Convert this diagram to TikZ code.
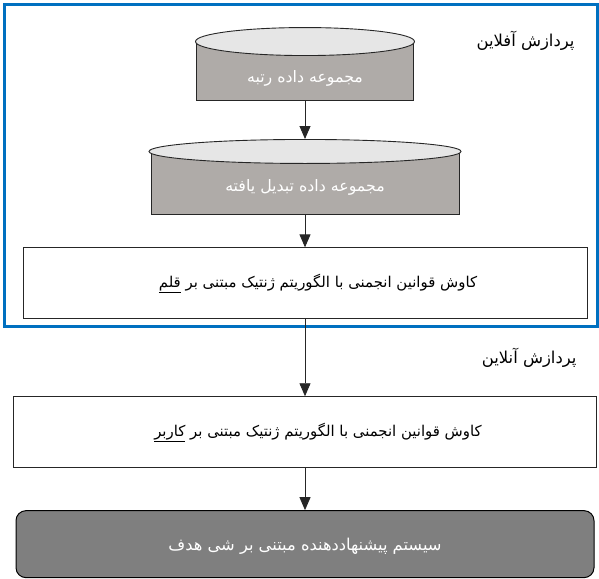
\documentclass[tikz,border=0pt]{standalone}
\usepackage{fontspec}
\usepackage{xcolor}
\usetikzlibrary{positioning, shapes.geometric, arrows.meta}
\TeXXeTstate=1
\newfontfamily\persianfont[Script=Arabic]{DejaVu Sans}
\newcommand{\fa}[1]{{\persianfont\beginR #1\endR}}
\newcommand{\lowered}[2]{\raisebox{-#1}[\height][\depth]{#2}}
\definecolor{dbgray}{RGB}{175,171,168}
\definecolor{dbtopgray}{RGB}{230,230,230}
\definecolor{recgray}{RGB}{127,127,127}
\definecolor{frameblue}{RGB}{0,112,192}
\tikzset{
  dbbody/.style={draw=black!85, line width=0.9pt, fill=dbgray, text=white, inner sep=0pt, font=\fontsize{15.8}{18}\selectfont},
  dbtop/.style={ellipse, draw=black!85, line width=0.9pt, fill=dbtopgray, inner sep=0pt},
  procbox/.style={draw=black!85, line width=0.9pt, fill=white, minimum height=71pt, inner sep=0pt, font=\fontsize{14.9}{17}\selectfont},
  phaselbl/.style={anchor=east, font=\fontsize{16.4}{19}\selectfont},
  flow/.style={-{Triangle[width=11pt,length=13pt]}, line width=0.9pt, black!85},
}
\begin{document}
\begin{tikzpicture}[x=1pt, y=-1pt]
\useasboundingbox (0,0) rectangle (599,578);
% offline part
\draw[frameblue, line width=3pt] (4,5) rectangle (597,326);
\node[phaselbl] (offlinelbl) at (578,41) {\fa{پردازش آفلاین}};

\node[dbbody, minimum width=217pt, minimum height=58pt] (ranked) at (305,71) {\lowered{7pt}{\fa{مجموعه داده رتبه}}};
\node[dbtop, minimum width=219pt, minimum height=28pt] (rankedtop) at (ranked.north) {};

\node[dbbody, minimum width=308pt, minimum height=63pt, below=51pt of ranked] (transformed) {\lowered{4pt}{\fa{مجموعه داده تبدیل یافته}}};
\node[dbtop, minimum width=312pt, minimum height=24pt] (transformedtop) at (transformed.north) {};

\node[procbox, minimum width=564pt, below=32pt of transformed] (offminer) {\hspace*{26pt}\fa{کاوش قوانین انجمنی با الگوریتم ژنتیک مبتنی بر \underline{قلم}}};

% online part
\node[phaselbl] (onlinelbl) at (580,358) {\fa{پردازش آنلاین}};
\node[procbox, minimum width=583pt, below=77pt of offminer] (onminer) {\hspace*{26pt}\fa{کاوش قوانین انجمنی با الگوریتم ژنتیک مبتنی بر \underline{کاربر}}};
\node[draw=black, line width=1pt, fill=recgray, text=white, rounded corners=10pt, minimum width=578pt, minimum height=67pt, inner sep=0pt, font=\fontsize{16.3}{19}\selectfont, below=42pt of onminer] (recsys) {\lowered{2pt}{\fa{سیستم پیشنهاددهنده مبتنی بر شی هدف}}};

\draw[flow] (ranked.south) -- (transformedtop.north);
\draw[flow] (transformed.south) -- (offminer.north);
\draw[flow] (offminer.south) -- (onminer.north);
\draw[flow] (onminer.south) -- (recsys.north);
\end{tikzpicture}
\end{document}
